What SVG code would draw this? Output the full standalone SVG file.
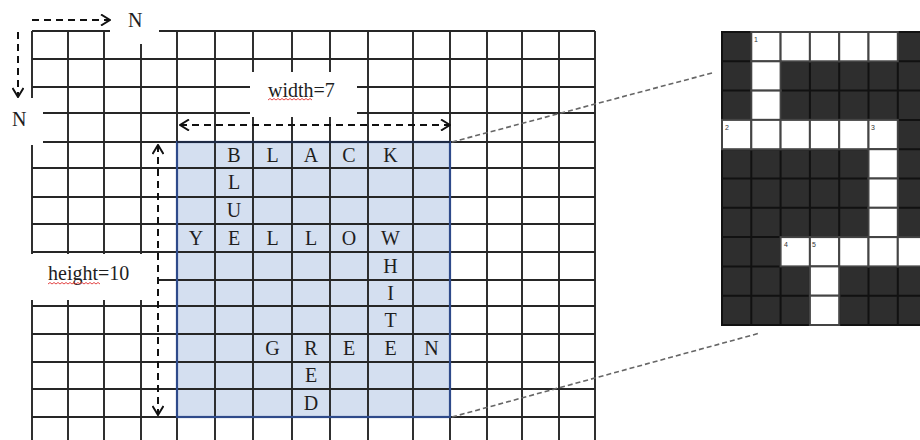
<svg xmlns="http://www.w3.org/2000/svg" width="920" height="440" viewBox="0 0 920 440">
<style>
.grid{stroke:#262626;stroke-width:1.9;fill:none}
.lt{font-family:"Liberation Serif",serif;font-size:20px;fill:#1e1e1e;text-anchor:middle}
.lbl{font-family:"Liberation Serif",serif;font-size:20px;fill:#1e1e1e}
.arr{stroke:#111;stroke-width:2;stroke-dasharray:7 5;fill:none}
.wave{stroke:#e03030;stroke-width:0.9;fill:none}
.wb{fill:#fff}
.cb{fill:#2e2e2e;stroke:#111;stroke-width:2}
.cw{fill:#fff;stroke:#444;stroke-width:2}
.num{font-family:"Liberation Sans",sans-serif;font-size:7px;fill:#333}
.conn{stroke:#666;stroke-width:1.6;stroke-dasharray:5 3;fill:none}
</style>
<defs>
<marker id="chev" viewBox="0 0 12 12" refX="11" refY="6" markerWidth="12" markerHeight="12" markerUnits="userSpaceOnUse" orient="auto-start-reverse">
<path d="M2,0.5 L11,6 L2,11.5" fill="none" stroke="#111" stroke-width="2"/>
</marker>
</defs>
<rect width="920" height="440" fill="#fff"/>
<g id="region-fill"><rect x="177" y="142" width="273" height="275" fill="#d4dff0"/></g>
<g id="grid">
<path class="grid" d="M32 31H595M32 59H595M32 87H595M32 113H595M32 142H595M32 168H595M32 197H595M32 224H595M32 252H595M32 280H595M32 306H595M32 334H595M32 362H595M32 389H595M32 417H595
M32 31V440M68 31V440M104 31V440M141 31V440M177 31V440M215 31V440M253 31V440M292 31V440M330 31V440M368 31V440M413 31V440M450 31V440M487 31V440M522 31V440M559 31V440M595 31V440"/>
</g>
<g id="region-border"><rect x="177" y="142" width="273" height="275" fill="none" stroke="#2e4a8a" stroke-width="2.2"/><line x1="177" y1="142" x2="450" y2="142" stroke="#1e2a44" stroke-width="2.2"/></g>
<g id="whiteouts">
<rect class="wb" x="110" y="0" width="49" height="44"/>
<rect class="wb" x="0" y="98" width="43" height="47"/>
<rect class="wb" x="250" y="72" width="107" height="45"/>
<rect class="wb" x="30" y="254" width="127" height="46"/>
</g>
<g id="letters">
<text class="lt" x="234" y="162">B</text><text class="lt" x="272.5" y="162">L</text><text class="lt" x="311" y="162">A</text><text class="lt" x="349" y="162">C</text><text class="lt" x="390.5" y="162">K</text>
<text class="lt" x="234" y="189">L</text>
<text class="lt" x="234" y="217">U</text>
<text class="lt" x="196" y="245">Y</text><text class="lt" x="234" y="245">E</text><text class="lt" x="272.5" y="245">L</text><text class="lt" x="311" y="245">L</text><text class="lt" x="349" y="245">O</text><text class="lt" x="390.5" y="245">W</text>
<text class="lt" x="390.5" y="273">H</text>
<text class="lt" x="390.5" y="300">I</text>
<text class="lt" x="390.5" y="327">T</text>
<text class="lt" x="272.5" y="355">G</text><text class="lt" x="311" y="355">R</text><text class="lt" x="349" y="355">E</text><text class="lt" x="390.5" y="355">E</text><text class="lt" x="431.5" y="355">N</text>
<text class="lt" x="311" y="382">E</text>
<text class="lt" x="311" y="410">D</text>
</g>
<g id="labels">
<text class="lbl" x="128" y="27">N</text>
<text class="lbl" x="12" y="126">N</text>
<text class="lbl" x="268" y="97">width=7</text>
<path class="wave" d="M268 100l2-1.5l2 1.5l2-1.5l2 1.5l2-1.5l2 1.5l2-1.5l2 1.5l2-1.5l2 1.5l2-1.5l2 1.5l2-1.5l2 1.5l2-1.5l2 1.5l2-1.5l2 1.5l2-1.5l2 1.5l2-1.5l2 1.5"/>
<text class="lbl" x="48" y="280">height=10</text>
<path class="wave" d="M48 284l2-1.5l2 1.5l2-1.5l2 1.5l2-1.5l2 1.5l2-1.5l2 1.5l2-1.5l2 1.5l2-1.5l2 1.5l2-1.5l2 1.5l2-1.5l2 1.5l2-1.5l2 1.5l2-1.5l2 1.5l2-1.5l2 1.5l2-1.5l2 1.5l2-1.5l2 1.5"/>
</g>
<g id="arrows">
<line class="arr" x1="32" y1="20" x2="110" y2="20" marker-end="url(#chev)"/>
<line class="arr" x1="18" y1="32" x2="18" y2="97" marker-end="url(#chev)"/>
<line class="arr" x1="180" y1="125" x2="450" y2="125" marker-start="url(#chev)" marker-end="url(#chev)"/>
<line class="arr" x1="158" y1="145" x2="158" y2="415" marker-start="url(#chev)" marker-end="url(#chev)"/>
</g>
<g id="crossword">
<rect class="cb" x="722" y="32" width="205" height="293"/>
<path d="M751.3 32V325M780.6 32V325M809.9 32V325M839.2 32V325M868.5 32V325M897.8 32V325M722 61.3H927M722 90.6H927M722 119.9H927M722 149.2H927M722 178.5H927M722 207.8H927M722 237.1H927M722 266.4H927M722 295.7H927" stroke="#111" stroke-width="2" fill="none"/>
<rect class="cw" x="751.3" y="32" width="29.3" height="29.3"/><rect class="cw" x="780.6" y="32" width="29.3" height="29.3"/><rect class="cw" x="809.9" y="32" width="29.3" height="29.3"/><rect class="cw" x="839.2" y="32" width="29.3" height="29.3"/><rect class="cw" x="868.5" y="32" width="29.3" height="29.3"/>
<rect class="cw" x="751.3" y="61.3" width="29.3" height="29.3"/>
<rect class="cw" x="751.3" y="90.6" width="29.3" height="29.3"/>
<rect class="cw" x="722" y="119.9" width="29.3" height="29.3"/><rect class="cw" x="751.3" y="119.9" width="29.3" height="29.3"/><rect class="cw" x="780.6" y="119.9" width="29.3" height="29.3"/><rect class="cw" x="809.9" y="119.9" width="29.3" height="29.3"/><rect class="cw" x="839.2" y="119.9" width="29.3" height="29.3"/><rect class="cw" x="868.5" y="119.9" width="29.3" height="29.3"/>
<rect class="cw" x="868.5" y="149.2" width="29.3" height="29.3"/>
<rect class="cw" x="868.5" y="178.5" width="29.3" height="29.3"/>
<rect class="cw" x="868.5" y="207.8" width="29.3" height="29.3"/>
<rect class="cw" x="780.6" y="237.1" width="29.3" height="29.3"/><rect class="cw" x="809.9" y="237.1" width="29.3" height="29.3"/><rect class="cw" x="839.2" y="237.1" width="29.3" height="29.3"/><rect class="cw" x="868.5" y="237.1" width="29.3" height="29.3"/><rect class="cw" x="897.8" y="237.1" width="29.3" height="29.3"/>
<rect class="cw" x="809.9" y="266.4" width="29.3" height="29.3"/>
<rect class="cw" x="809.9" y="295.7" width="29.3" height="29.3"/>
<text class="num" x="754" y="42">1</text>
<text class="num" x="725" y="130">2</text>
<text class="num" x="871" y="130">3</text>
<text class="num" x="784" y="247">4</text>
<text class="num" x="812" y="247">5</text>
</g>
<g id="connectors">
<line class="conn" x1="452" y1="142" x2="712" y2="73"/>
<line class="conn" x1="452" y1="417" x2="760" y2="333"/>
</g>
</svg>
